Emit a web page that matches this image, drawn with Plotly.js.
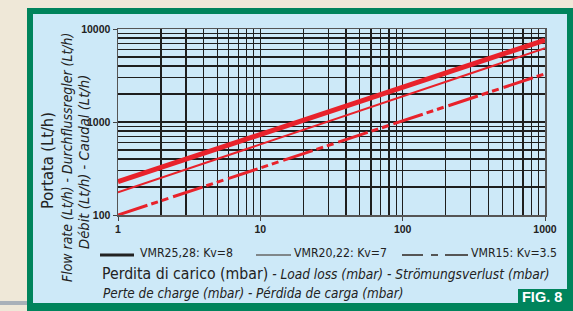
<!DOCTYPE html>
<html><head><meta charset="utf-8">
<script src="https://cdn.plot.ly/plotly-3.0.1.min.js"></script>
<style>html,body{margin:0;padding:0;background:#efe8d8;overflow:hidden}#chart{width:573px;height:311px}</style>
</head><body><div id="chart"></div>
<script>
// ---- data ----
const pressureMbar = [1, 1000];
const flowVMR2528 = [228, 7600];   // Kv=8  (Lt/h)
const flowVMR2022 = [175, 6200];   // Kv=7
const flowVMR15   = [100, 3300];   // Kv=3.5
const seriesNames = ['VMR25,28: Kv=8', 'VMR20,22: Kv=7', 'VMR15: Kv=3.5'];
const xMajorTicks = [1, 10, 100, 1000];
const xMajorLabels = ['1', '10', '100', '1000'];
const yMajorTicks = [100, 1000, 10000];
const yMajorLabels = ['100', '1000', '10000'];
const xMinorTicks = [2,3,4,5,6,7,8,9,20,30,40,50,60,70,80,90,200,300,400,500,600,700,800,900];
const yMinorTicks = [200,300,400,500,600,700,800,900,2000,3000,4000,5000,6000,7000,8000,9000];

// ---- geometry helpers (pixel -> paper) ----
const W = 573, H = 311, L = 118, R = 28, T = 29, B = 96;
const PW = W - L - R, PH = H - T - B;
const px = v => (v - L) / PW;
const py = v => (H - B - v) / PH;

// ---- choose a condensed font if one is installed, else fit sizes to widths ----
const cv = document.createElement('canvas').getContext('2d');
function textW(txt, fam, size, italic) {
  cv.font = (italic ? 'italic ' : '') + size + 'px ' + fam;
  return cv.measureText(txt).width;
}
function hasFont(name) {
  const s = 'abcdefghijklmnopqrstuvwxyz0123456789';
  return textW(s, '"' + name + '", monospace', 40) !== textW(s, 'monospace', 40) ||
         textW(s, '"' + name + '", serif', 40) !== textW(s, 'serif', 40);
}
let NARROW = '"Liberation Sans", Arial, sans-serif';
for (const f of ['Liberation Sans Narrow', 'Arial Narrow', 'DejaVu Sans Condensed']) {
  if (hasFont(f)) { NARROW = '"' + f + '", "Liberation Sans", sans-serif'; break; }
}
function fit(txt, target, italic, maxSize) {
  const s = 20 * target / textW(txt, NARROW, 20, italic);
  return Math.min(maxSize || 99, Math.round(s * 10) / 10);
}

const SANS = '"Liberation Sans", Arial, sans-serif';
const RED = '#e8222b';
const GRID = '#1e1e1e';

const traces = [
  {x: pressureMbar, y: flowVMR2528, name: seriesNames[0], mode: 'lines', line: {color: RED, width: 5}},
  {x: pressureMbar, y: flowVMR2022, name: seriesNames[1], mode: 'lines', line: {color: RED, width: 2}},
  {x: pressureMbar, y: flowVMR15, name: seriesNames[2], mode: 'lines', line: {color: RED, width: 3, dash: '31px,4px,7px,4px,7px,5px'}}
];

function rect(x0, y0, x1, y1, color, layer) {
  return {type: 'rect', xref: 'paper', yref: 'paper', x0: px(x0), x1: px(x1), y0: py(y1), y1: py(y0),
          fillcolor: color, line: {width: 0}, layer: layer || 'below'};
}
function seg(x0, x1, y, color, width) {
  return {type: 'line', xref: 'paper', yref: 'paper', x0: px(x0), x1: px(x1), y0: py(y), y1: py(y),
          line: {color: color, width: width}, layer: 'above'};
}

const GREEN = '#00845c';
const shapes = [
  rect(0, 301, 27, 305, '#a9b1b9'),
  rect(27, 8, 573, 311, GREEN),
  rect(33, 14, 567, 303, '#cde9f8'),
  rect(518, 289, 567, 303, GREEN),
  // legend samples
  seg(100, 134, 255, '#222', 3),
  seg(256, 291, 255, '#666', 1.5),
  seg(402, 423, 255, '#555', 2),
  seg(431, 438, 255, '#555', 2),
  seg(445, 468, 255, '#555', 2)
];

function ann(text, x, y, size, opts) {
  return Object.assign({text: text, xref: 'paper', yref: 'paper', x: px(x), y: py(y), showarrow: false,
    xanchor: 'center', yanchor: 'middle', font: {family: NARROW, size: size, color: '#222'}}, opts || {});
}

const tY1 = 'Portata (Lt/h)';
const tY2 = 'Flow rate (Lt/h) - Durchflussregler (Lt/h)';
const tY3 = 'Débit (Lt/h) - Caudal (Lt/h)';
const tX1a = 'Perdita di carico (mbar)';
const tX1b = ' - Load loss (mbar) - Strömungsverlust (mbar)';
const tX2 = 'Perte de charge (mbar) - Pérdida de carga (mbar)';

const legSize = Math.min(fit(seriesNames[0], 94), fit(seriesNames[1], 94), fit(seriesNames[2], 86));
const sX1b = fit(tX1b, 281, true);

const annotations = [
  ann(tY1, 47, 161, fit(tY1, 97), {textangle: -90}),
  ann('<i>' + tY2 + '</i>', 67, 158, fit(tY2, 250, true), {textangle: -90}),
  ann('<i>' + tY3 + '</i>', 83, 162, fit(tY3, 175, true), {textangle: -90}),
  ann(seriesNames[0], 138, 253, legSize, {xanchor: 'left'}),
  ann(seriesNames[1], 292, 253, legSize, {xanchor: 'left'}),
  ann(seriesNames[2], 469, 253, legSize, {xanchor: 'left'}),
  ann(tX1a + '<span style="font-size:' + sX1b + 'px"><i>' + tX1b + '</i></span>', 100, 273, fit(tX1a, 166), {xanchor: 'left'}),
  ann('<i>' + tX2 + '</i>', 101, 293, fit(tX2, 300, true), {xanchor: 'left'}),
  ann('<b>FIG. 8</b>', 542, 297, 14.5, {font: {family: SANS, size: 14.5, color: '#ffffff'}})
];

const axisCommon = {
  type: 'log', tickmode: 'array', ticks: 'outside', ticklen: 4, tickcolor: '#444', tickwidth: 1,
  showgrid: true, gridcolor: GRID, gridwidth: 1.3, showline: true, mirror: true, linecolor: '#555', linewidth: 1.5,
  zeroline: false, tickfont: {family: SANS, size: 10.5, color: '#222', weight: 'bold'}, fixedrange: true
};

const layout = {
  width: W, height: H, margin: {l: L, r: R, t: T, b: B, pad: 0},
  paper_bgcolor: '#efe8d8', plot_bgcolor: 'rgba(0,0,0,0)', showlegend: false, hovermode: false,
  xaxis: Object.assign({}, axisCommon, {range: [0, 3], tickvals: xMajorTicks, ticktext: xMajorLabels,
    minor: {tickmode: 'array', tickvals: xMinorTicks, showgrid: true, gridcolor: GRID, gridwidth: 1.3, ticks: ''}}),
  yaxis: Object.assign({}, axisCommon, {range: [2, 4], tickvals: yMajorTicks, ticktext: yMajorLabels,
    minor: {tickmode: 'array', tickvals: yMinorTicks, showgrid: true, gridcolor: GRID, gridwidth: 1.3, ticks: ''}}),
  shapes: shapes, annotations: annotations
};

Plotly.newPlot('chart', traces, layout, {staticPlot: true, displayModeBar: false});
</script></body></html>
